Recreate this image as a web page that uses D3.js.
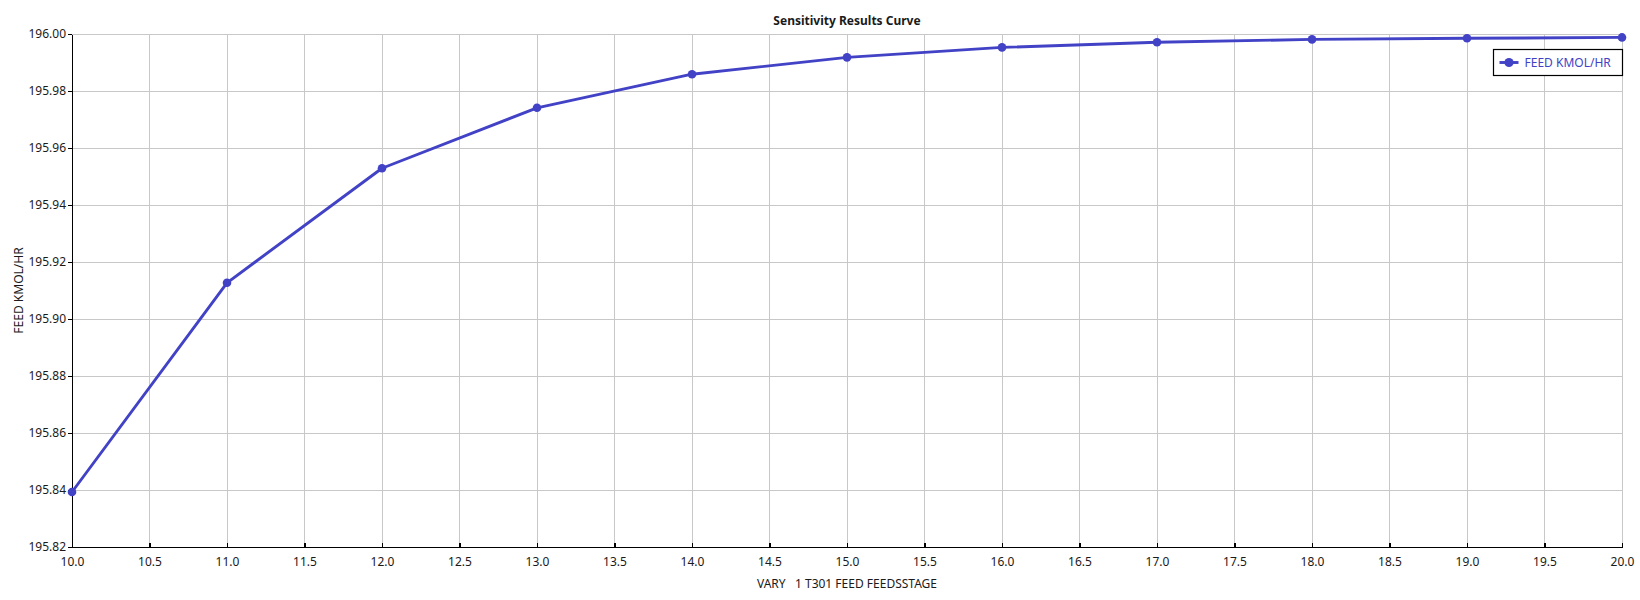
<!DOCTYPE html>
<html>
  <head>
    <meta charset="utf-8">
    <title>Sensitivity Results Curve</title>
    <script src="https://d3js.org/d3.v7.min.js"></script>
    <style>
     body { margin: 0; background: #fff; }
     svg text { font-family: "Segoe UI", "Noto Sans", sans-serif; font-size: 12px; fill: #1a1a1a; }
     .grid line { stroke: #c8c8c8; stroke-width: 1; shape-rendering: crispEdges; }
     .axis path, .axis line { stroke: #000; stroke-width: 1.3; shape-rendering: crispEdges; }
    </style>
  </head>
  <body>
    <svg id="chart"></svg>
    <script>
     // values
     var feedStage = [10, 11, 12, 13, 14, 15, 16, 17, 18, 19, 20];
     var feedFlow = [195.8393, 195.9127, 195.9529, 195.9741, 195.9859, 195.9918,
		     195.9953, 195.9971, 195.9981, 195.9985, 195.9988];
     var xTicks = [10, 10.5, 11, 11.5, 12, 12.5, 13, 13.5, 14, 14.5, 15, 15.5,
		   16, 16.5, 17, 17.5, 18, 18.5, 19, 19.5, 20];
     var yTicks = [195.82, 195.84, 195.86, 195.88, 195.90, 195.92, 195.94, 195.96, 195.98, 196.00];
     var seriesName = "FEED KMOL/HR";
     var titleText = "Sensitivity Results Curve";
     var xLabel = "VARY   1 T301 FEED FEEDSSTAGE";

     var W = 1640, H = 600;
     var margin = {top: 34, right: 18, bottom: 53, left: 72}
       , width = W - margin.left - margin.right
       , height = H - margin.top - margin.bottom;
     var blue = "#4242c6";

     var svg = d3.select("#chart").attr("width", W).attr("height", H);
     var g = svg.append("g").attr("transform", "translate(" + margin.left + "," + margin.top + ")");

     var xScale = d3.scaleLinear().domain([10, 20]).range([0, width]);
     var yScale = d3.scaleLinear().domain([195.82, 196.00]).range([height, 0]);

     // grid
     g.append("g").attr("class", "grid")
      .selectAll("line").data(xTicks).join("line")
      .attr("x1", d => xScale(d)).attr("x2", d => xScale(d))
      .attr("y1", 0).attr("y2", height);
     g.append("g").attr("class", "grid")
      .selectAll("line").data(yTicks).join("line")
      .attr("x1", 0).attr("x2", width)
      .attr("y1", d => yScale(d)).attr("y2", d => yScale(d));

     // axes
     g.append("g").attr("class", "x axis")
      .attr("transform", "translate(0," + height + ")")
      .call(d3.axisBottom(xScale).tickValues(xTicks).tickFormat(d3.format(".1f")).tickSize(-4).tickSizeOuter(0).tickPadding(10))
      .call(a => a.selectAll("text").attr("dy", "0.71em"));
     g.append("g").attr("class", "y axis")
      .call(d3.axisLeft(yScale).tickValues(yTicks).tickFormat(d3.format(".2f")).tickSize(4).tickSizeOuter(0).tickPadding(2));
     g.selectAll(".axis .domain").attr("stroke", "#000");
     g.selectAll(".axis text").attr("fill", "#1a1a1a").style("font-size", "12px")
      .style("font-family", "'Segoe UI', 'Noto Sans', sans-serif");

     // title and labels
     svg.append("text")
	.attr("x", margin.left + width / 2).attr("y", 25)
	.style("text-anchor", "middle").style("font-weight", "bold")
	.text(titleText);
     svg.append("text")
	.attr("x", margin.left + width / 2).attr("y", 588)
	.style("text-anchor", "middle").style("white-space", "pre")
	.text(xLabel);
     svg.append("text")
	.attr("transform", "translate(23," + (margin.top + height / 2) + ") rotate(-90)")
	.style("text-anchor", "middle")
	.text(seriesName);

     // series
     var pts = feedStage.map((x, i) => ({x: x, y: feedFlow[i]}));
     var line = d3.line().x(d => xScale(d.x)).y(d => yScale(d.y));
     g.append("path").datum(pts)
      .attr("d", line)
      .attr("fill", "none").attr("stroke", blue).attr("stroke-width", 2.9)
      .attr("stroke-linejoin", "round");
     g.selectAll(".pt").data(pts).join("circle")
      .attr("class", "pt")
      .attr("cx", d => xScale(d.x)).attr("cy", d => yScale(d.y))
      .attr("r", 4.3).attr("fill", blue);

     // legend
     var lg = svg.append("g").attr("transform", "translate(1493.5,49.5)");
     lg.append("rect").attr("width", 129).attr("height", 26)
       .attr("fill", "#fff").attr("stroke", "#000").attr("stroke-width", 1.2);
     lg.append("line").attr("x1", 6).attr("x2", 25).attr("y1", 13).attr("y2", 13)
       .attr("stroke", blue).attr("stroke-width", 2.9);
     lg.append("circle").attr("cx", 15.5).attr("cy", 13).attr("r", 4.6).attr("fill", blue);
     lg.append("text").attr("x", 31).attr("y", 17.5).attr("fill", blue).style("fill", blue)
       .text(seriesName);
    </script>
  </body>
</html>
